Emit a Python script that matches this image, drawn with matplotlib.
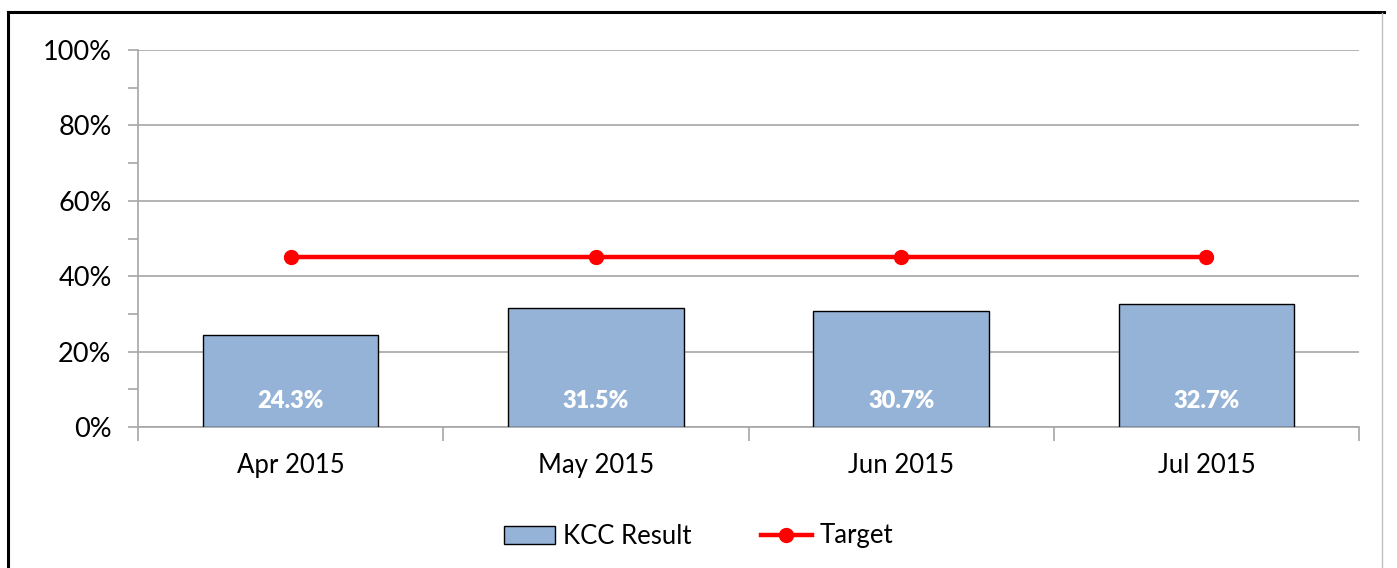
from matplotlib import pyplot as plt
from matplotlib.lines import Line2D
from matplotlib.ticker import MultipleLocator, FuncFormatter, FixedLocator
import numpy as np

months = ['Apr 2015', 'May 2015', 'Jun 2015', 'Jul 2015']
kcc_result = [24.3, 31.5, 30.7, 32.7]
target = [45, 45, 45, 45]

bar_color = '#95b3d7'
grid_color = '#a6a6a6'

plt.rcParams['font.family'] = ['Lato', 'DejaVu Sans']

fig = plt.figure(figsize=[13.97, 5.68], dpi=100)
ax = fig.add_axes([138/1397, 1-427/568, (1359-138)/1397, (427-50)/568])

x = np.arange(len(months))
bars = ax.bar(x, kcc_result, width=0.575, color=bar_color, edgecolor='black',
              linewidth=1.0, zorder=3, label='KCC Result')
line, = ax.plot(x, target, color='#ff0000', linewidth=3.2, marker='o', markersize=10,
                zorder=4, label='Target')

for xi, v in zip(x, kcc_result):
    ax.text(xi, 7.0, '{:.1f}%'.format(v), ha='center', va='center',
            color='white', fontsize=17, fontweight='heavy', zorder=5)

ax.set_xlim(-0.5, len(months) - 0.5)
ax.set_ylim(0, 100)
ax.yaxis.set_major_locator(MultipleLocator(20))
ax.yaxis.set_minor_locator(MultipleLocator(10))
ax.yaxis.set_major_formatter(FuncFormatter(lambda v, p: '{:.0f}%'.format(v)))
ax.grid(axis='y', color=grid_color, linewidth=1.2, zorder=0)

ax.set_xticks(x)
ax.set_xticklabels(months)
ax.xaxis.set_minor_locator(FixedLocator(np.arange(len(months) + 1) - 0.5))
ax.tick_params(axis='x', which='major', length=0, pad=19, labelsize=18.5)
ax.tick_params(axis='x', which='minor', length=10, color=grid_color, width=1.2)
ax.tick_params(axis='y', which='both', length=7, color=grid_color, width=1.2,
               labelsize=19.5, pad=12)

for side in ['top', 'right']:
    ax.spines[side].set_visible(False)
for side in ['left', 'bottom']:
    ax.spines[side].set_color(grid_color)
    ax.spines[side].set_linewidth(1.2)

ax.legend([bars, line], ['KCC Result', 'Target'], loc='center',
          bbox_to_anchor=(0.5, (568-536)/568), bbox_transform=fig.transFigure,
          ncol=2, frameon=False, fontsize=18.5, handlelength=2.0, columnspacing=2.7,
          handletextpad=0.3)

# outer frame lines
fig.add_artist(Line2D([8/1397, 1384/1397], [1-12/568, 1-12/568], color='black', linewidth=2.2))
fig.add_artist(Line2D([8/1397, 8/1397], [0, 1-12/568], color='black', linewidth=2.2))
fig.add_artist(Line2D([1382/1397, 1382/1397], [0, 1-13/568], color='#c0c0c0', linewidth=1.0))

plt.savefig('out.png', dpi=100)
